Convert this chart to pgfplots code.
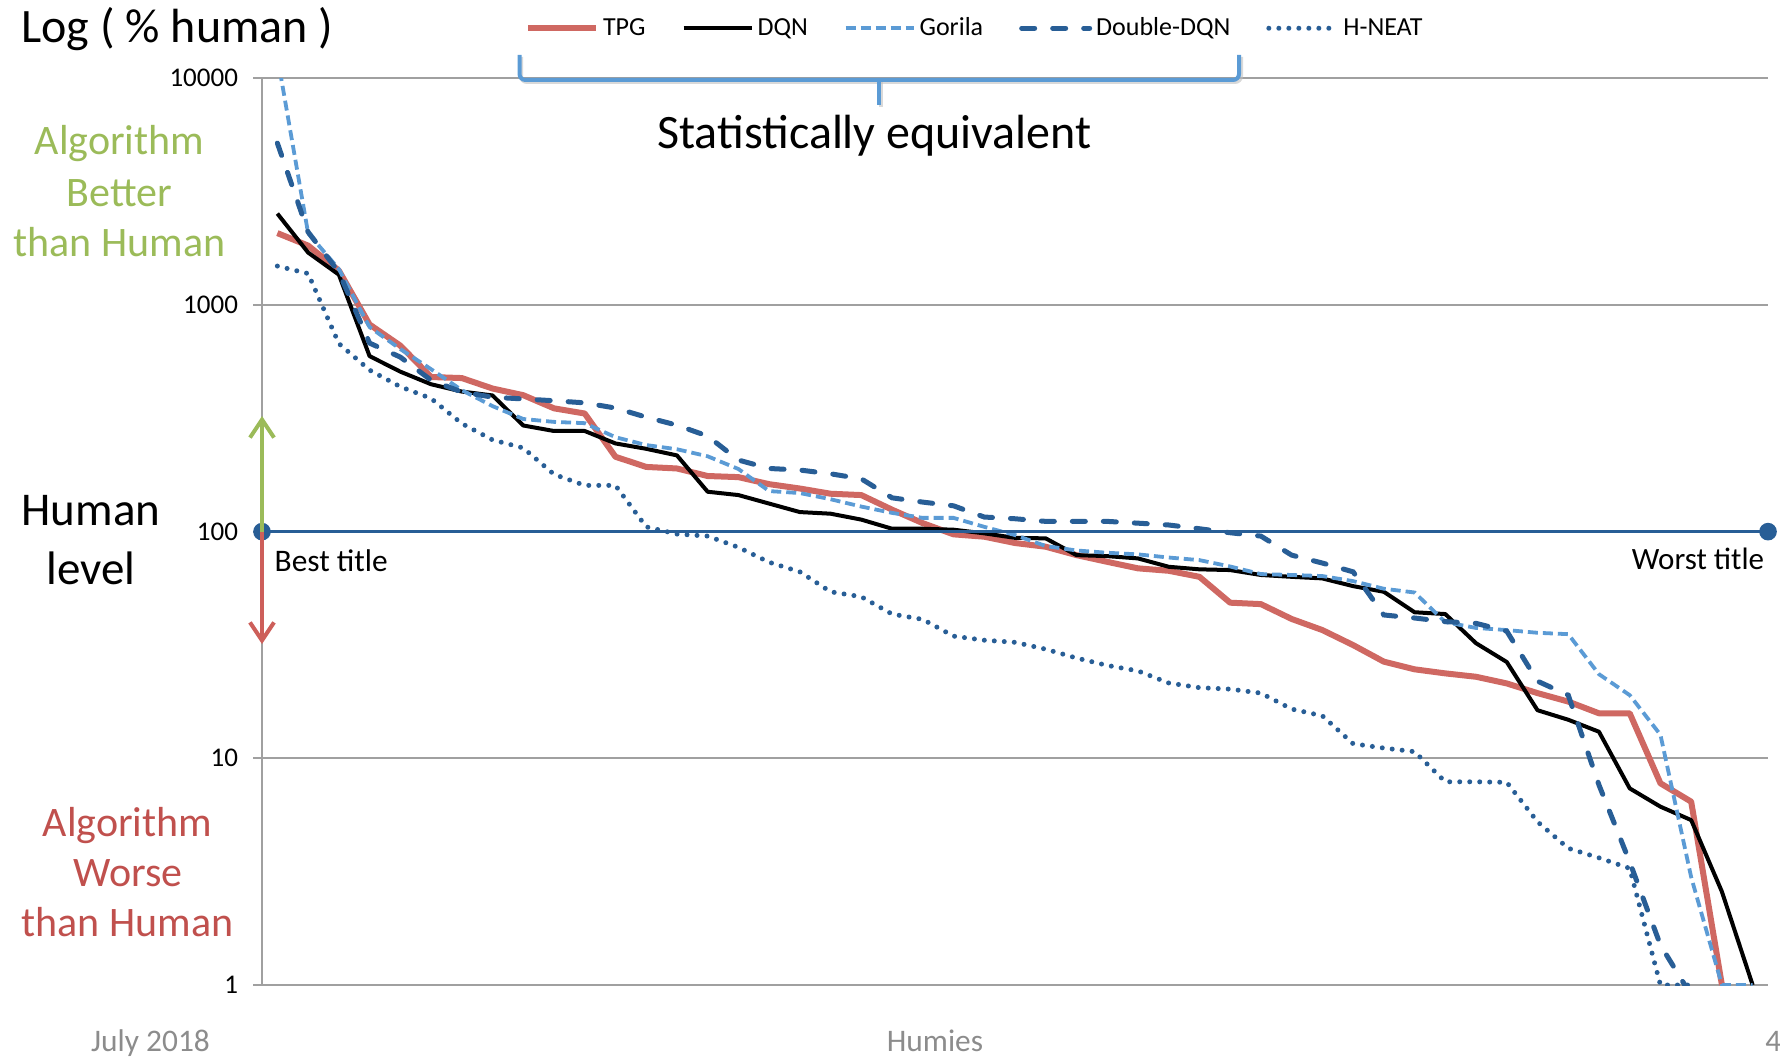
\documentclass[border=0pt]{standalone}
\usepackage{fontspec}
\setmainfont{Carlito}
\usepackage{pgfplots}
\pgfplotsset{compat=1.18}
\usepackage{pgfplotstable}
\usetikzlibrary{arrows.meta}

\definecolor{tpgred}{RGB}{207,104,98}
\definecolor{ddqnblue}{RGB}{40,94,150}
\definecolor{gorblue}{RGB}{91,155,213}
\definecolor{gridgray}{RGB}{160,160,160}
\definecolor{agreen}{RGB}{155,187,89}
\definecolor{ared}{RGB}{192,80,77}
\definecolor{arrred}{RGB}{205,95,90}
\definecolor{slidegray}{RGB}{140,140,140}

\newcommand\fs[1]{\fontsize{#1}{#1}\selectfont}

\pgfplotstableread{
i tpg dqn gor ddqn hneat
1 2075 2530 12500 5177 1485
2 1828 1703 2075 2098 1376
3 1419 1361 1440 1397 676
4 820 595 799 679 516
5 662 508 639 589 436
6 481 447 521 466 387
7 476 415 421 413 300
8 428 399 358 392 254
9 400 294 314 385 234
10 350 278 305 378 179
11 332 278 301 370 160
12 214 245 261 351 160
13 193 232 241 320 105
14 190 217 231 295 97.6
15 176 150 215 264 95.6
16 174 145 189 207 85.3
17 162 133 151 190 73.3
18 155 122 148 187 66.5
19 147 120 139 180 54.3
20 145 113 129 171 51.6
21 125 103 121 141 43.3
22 109 103 115 135 41.0
23 97.3 102 115 130 34.6
24 95 98.3 105 116 33.2
25 89.1 93.9 96.6 114 32.5
26 85.8 93.4 86.4 111 30.3
27 78.8 78.8 82.6 111 27.7
28 73.6 78.0 80.7 111 25.7
29 68.9 76.2 79.4 109 24.3
30 67.2 70.0 76.9 107 21.5
31 63.2 68.2 74.9 103 20.5
32 48.6 67.7 70.2 98.9 20.2
33 47.9 64.4 65.0 95.6 19.4
34 41.2 63.2 64.4 78.8 16.5
35 36.8 62.2 63.7 72.7 15.4
36 31.6 57.5 60.5 66.5 11.6
37 26.7 54.3 56.0 42.9 11.1
38 24.7 44.1 53.9 41.6 10.7
39 23.7 43.3 39.9 40.1 7.88
40 22.9 32.2 37.6 39.4 7.88
41 21.4 26.6 36.8 36.4 7.84
42 19.4 16.3 35.8 21.9 5.25
43 17.8 14.8 35.3 19.0 4.01
44 15.8 13.1 23.5 7.63 3.64
45 15.8 7.37 19.0 3.49 3.27
46 7.76 6.12 12.7 1.50 1
47 6.44 5.34 2.99 0.9 1
48 1 2.58 1 nan nan
49 nan 1 1 nan nan
}\data

\begin{document}
\begin{tikzpicture}
\path[use as bounding box] (0,0) rectangle (890pt,528.5pt);

\begin{axis}[
  at={(131pt,36pt)}, anchor=south west,
  scale only axis, width=753pt, height=453.35pt,
  xmin=0.5, xmax=49.5,
  ymode=log, ymin=1, ymax=10000,
  axis x line*=bottom, axis y line*=left,
  xtick=\empty,
  ytick={1,10,100,1000,10000},
  yticklabels={1,10,100,1000,10000},
  yminorticks=false,
  ymajorgrids,
  grid style={gridgray, line width=0.9pt},
  axis line style={gridgray, line width=0.9pt},
  ytick style={gridgray, line width=0.9pt},
  tick align=outside, major tick length=4.5pt,
  yticklabel style={font=\fs{13.5}, text=black, xshift=-4pt},
  clip mode=individual,
  legend columns=5,
  legend style={at={(0.1744,1.0552)}, anchor=west, draw=none, fill=none,
    inner sep=0pt, font=\fs{13},
    /tikz/every even column/.append style={column sep=16pt}},
  legend image code/.code={\draw[#1] plot coordinates {(0pt,0pt) (34pt,0pt)};},
]
\addplot[tpgred, line width=3pt, line join=round] table[x=i,y=tpg]{\data};
\addplot[black, line width=2pt, line join=round] table[x=i,y=dqn]{\data};
\addplot[gorblue, line width=1.9pt, dash pattern=on 5pt off 2.5pt] table[x=i,y=gor]{\data};
\addplot[ddqnblue, line width=2.5pt, line cap=round, dash pattern=on 6.5pt off 9pt] table[x=i,y=ddqn]{\data};
\addplot[ddqnblue, line width=2.5pt, line cap=round, dash pattern=on 0pt off 5pt] table[x=i,y=hneat]{\data};
\legend{TPG,DQN,Gorila,Double-DQN,H-NEAT}
\addplot[ddqnblue, line width=1.3pt, mark=*, mark size=3.75pt, mark options={solid, fill=ddqnblue}, forget plot] coordinates {(0.5,100) (49.5,100)};
\end{axis}

\begin{scope}[x=0.5pt, y=-0.5pt, shift={(0pt,528.5pt)}]
% bracket
\draw[black!25, line width=2pt, rounded corners=3pt, opacity=0.6] (521,57) -- (521,82) -- (1241,82) -- (1241,57);
\draw[black!25, line width=2pt, opacity=0.6] (880.6,82) -- (880.6,107);
\draw[gorblue, line width=2pt, rounded corners=3pt] (519.5,55) -- (519.5,80) -- (1239,80) -- (1239,55);
\draw[gorblue, line width=2pt] (878.6,80) -- (878.6,105);
% arrows
\draw[agreen, line width=2pt, -{Straight Barb[length=9pt,width=12pt]}] (262,532) -- (262,416);
\draw[arrred, line width=2pt, -{Straight Barb[length=9pt,width=12pt]}] (262,532) -- (262,644);
% texts
\node[anchor=base west, inner sep=0pt, font=\fs{24}] at (21,43) {Log ( \% human )};
\node[anchor=base, inner sep=0pt, font=\fs{24}] at (874.5,149) {Statistically equivalent};
\node[anchor=base, inner sep=0pt, font=\fs{21}, text=agreen] at (119.5,155) {Algorithm};
\node[anchor=base, inner sep=0pt, font=\fs{21}, text=agreen] at (119.5,206.5) {Better};
\node[anchor=base, inner sep=0pt, font=\fs{21}, text=agreen] at (119.5,256.5) {than Human};
\node[anchor=base, inner sep=0pt, font=\fs{23.5}] at (91,525.8) {Human};
\node[anchor=base, inner sep=0pt, font=\fs{23.5}] at (91,584) {level};
\node[anchor=base, inner sep=0pt, font=\fs{21}, text=ared] at (127.5,836) {Algorithm};
\node[anchor=base, inner sep=0pt, font=\fs{21}, text=ared] at (128,886.5) {Worse};
\node[anchor=base, inner sep=0pt, font=\fs{21}, text=ared] at (127.5,936) {than Human};
\node[anchor=base west, inner sep=0pt, font=\fs{15.7}] at (274.3,571) {Best title};
\node[anchor=base east, inner sep=0pt, font=\fs{15.5}] at (1764.5,569.3) {Worst title};
\node[anchor=base, inner sep=0pt, font=\fs{15.7}, text=slidegray] at (150.5,1051) {July 2018};
\node[anchor=base, inner sep=0pt, font=\fs{15.7}, text=slidegray] at (935,1051) {Humies};
\node[anchor=base west, inner sep=0pt, font=\fs{15.7}, text=slidegray] at (1765,1051) {4};
\end{scope}
\end{tikzpicture}
\end{document}
